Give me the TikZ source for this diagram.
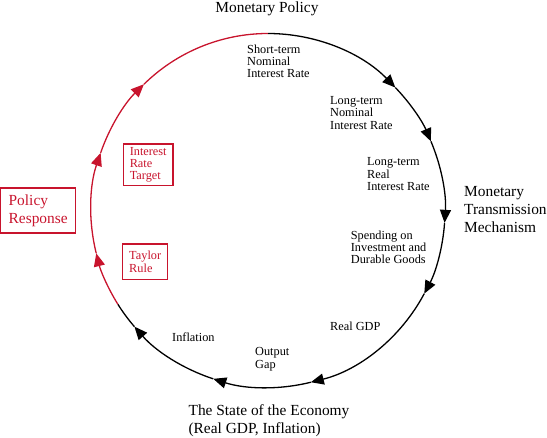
\documentclass[tikz,border=0pt]{standalone}
\usepackage{fontspec}
\setmainfont{Liberation Serif}
\usetikzlibrary{arrows.meta}
\definecolor{policyred}{RGB}{200,20,45}

\begin{document}
\begin{tikzpicture}[
    x=1pt, y=1pt,
    small/.style={anchor=north west, inner sep=0pt, align=left,
                  font=\fontsize{12.3}{12.3}\selectfont},
    big/.style={inner sep=0pt, align=left,
                font=\fontsize{15.4}{18.3}\selectfont},
    redbox/.style={draw=policyred, text=policyred, line width=1.3pt,
                   align=left, inner xsep=6.5pt, inner ysep=3pt},
    arrow/.style={-{Triangle[length=13pt,width=11pt]}, line width=1.3pt}
]
\useasboundingbox (-268,-227.5) rectangle (279,210.5);
\def\r{177pt}

% points on the loop
\foreach \n/\a in {1/90,2/44,3/23,4/-4,5/-28,6/-76,7/-108,8/-139,9/-148,
                   10/194,11/161,12/134.5}
    \coordinate (p\n) at (\a:\r);

% monetary transmission (black)
\foreach \s/\a/\b in {1/90/44, 2/44/23, 3/23/-4, 4/-4/-28,
                      5/-28/-76, 6/-76/-108, 7/-108/-139}
    \draw [arrow] (p\s) arc[start angle=\a, end angle=\b, radius=\r];
\draw [line width=1.3pt] (p8) arc[start angle=-139, end angle=-148, radius=\r];

% policy response (red)
\foreach \s/\a/\b in {9/212/194, 10/194/161, 11/161/134.5}
    \draw [arrow, policyred] (p\s) arc[start angle=\a, end angle=\b, radius=\r];
\draw [line width=1.3pt, policyred] (p12) arc[start angle=134.5, end angle=90, radius=\r];

\node (mp) [big, anchor=center] at (-1,202) {Monetary Policy};
\node (mtm) [big, anchor=north west] at (196,24.5) {Monetary\\Transmission\\Mechanism};
\node (soe) [big, anchor=north west] at (-79.6,-193.5) {The State of the Economy\\(Real GDP, Inflation)};

\node (sr) [small] at (-21,166) {Short-term\\Nominal\\Interest Rate};
\node (ln) [small] at (62,114.3) {Long-term\\Nominal\\Interest Rate};
\node (lr) [small] at (99,53) {Long-term\\Real\\Interest Rate};
\node (sp) [small] at (82.7,-20) {Spending on\\Investment and\\Durable Goods};
\node (gdp) [small, anchor=west] at (62,-115.5) {Real GDP};
\node (gap) [small] at (-13,-137) {Output\\Gap};
\node (inf) [small, anchor=west] at (-96,-126.5) {Inflation};

\node (pr) [redbox, big, inner xsep=8pt, inner ysep=4pt, minimum height=45pt] at (-229.8,0) {Policy\\Response};
\node (irt) [redbox, font=\fontsize{12.3}{12.3}\selectfont, minimum height=41.7pt] at (-119.8,45.6) {Interest\\Rate\\Target};
\node (tr) [redbox, font=\fontsize{12.3}{12.3}\selectfont, minimum height=35.3pt] at (-122.8,-51.2) {Taylor\\Rule};

\end{tikzpicture}
\end{document}
